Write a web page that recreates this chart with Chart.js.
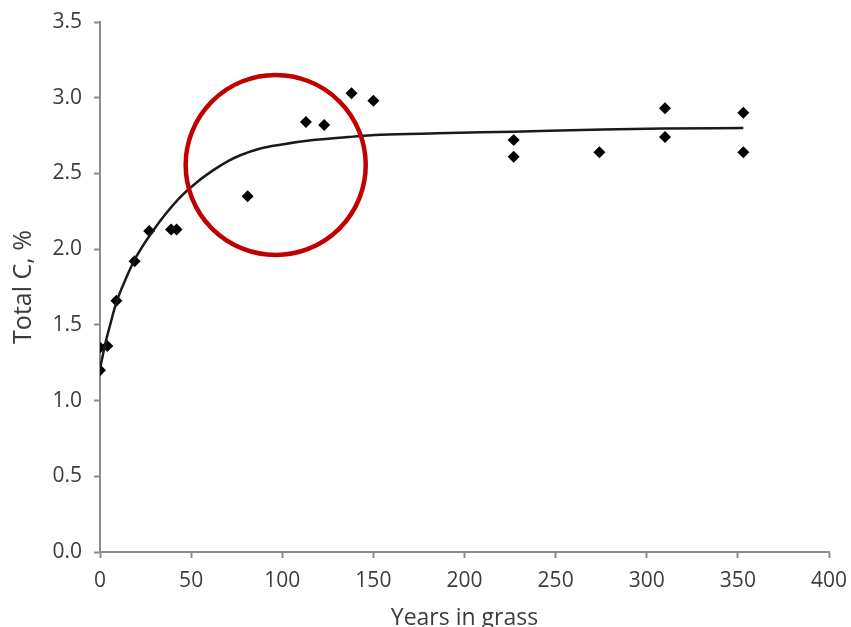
<!DOCTYPE html>
<html>
<head>
<meta charset="utf-8">
<script src="https://cdn.jsdelivr.net/npm/chart.js@4/dist/chart.umd.min.js"></script>
<style>
  html, body { margin: 0; padding: 0; background: #fff; }
  #wrap { width: 851px; height: 627px; }
</style>
</head>
<body>
<div id="wrap"><canvas id="chartCarbon" width="851" height="627"></canvas></div>
<script>
// Total C (%) vs years in grass — measured points + fitted curve

var obsYears  = [0, 0, 4, 9, 19, 27, 39, 42, 81, 113, 123, 138, 150, 227, 227, 274, 310, 310, 353, 353];
var obsCarbon = [1.20, 1.35, 1.36, 1.66, 1.92, 2.12, 2.13, 2.13, 2.35, 2.84, 2.82, 3.03, 2.98, 2.72, 2.61, 2.64, 2.93, 2.74, 2.90, 2.64];

var fitYears  = [0, 3, 6, 9, 14, 19, 29, 43, 53, 62, 70, 77, 88, 99, 117, 136, 154, 185, 227, 276, 309, 353];
var fitCarbon = [1.21, 1.38, 1.52, 1.65, 1.80, 1.93, 2.12, 2.33, 2.44, 2.52, 2.58, 2.62, 2.665, 2.69, 2.72, 2.74, 2.755, 2.765, 2.776, 2.79, 2.796, 2.80];

var xTicks = [0, 50, 100, 150, 200, 250, 300, 350, 400];
var yTicks = [0, 0.5, 1.0, 1.5, 2.0, 2.5, 3.0, 3.5];

// red highlight circle, in data units (centre year, centre %C, radius in years)
var ringYear = 96.4, ringCarbon = 2.556, ringRadiusYears = 49.4;

function toPoints(xs, ys) {
    return xs.map(function (x, i) { return { x: x, y: ys[i] }; });
}

var axisGray = '#8c8c8c';
var textGray = '#3c3c3c';

// ── red ring annotation ─────────────────────────────────────────────────
var ringPlugin = {
    id: 'ring',
    afterDatasetsDraw: function (chart) {
        var xs = chart.scales.x, ys = chart.scales.y, ctx = chart.ctx;
        var cx = xs.getPixelForValue(ringYear);
        var cy = ys.getPixelForValue(ringCarbon);
        var r  = xs.getPixelForValue(ringYear + ringRadiusYears) - cx;
        ctx.save();
        ctx.beginPath();
        ctx.arc(cx, cy, r, 0, Math.PI * 2);
        ctx.strokeStyle = '#c00000';
        ctx.lineWidth = 4.5;
        ctx.stroke();
        ctx.restore();
    }
};

new Chart(document.getElementById('chartCarbon'), {
    type: 'scatter',
    data: {
        datasets: [{
            label: 'Fit',
            data: toPoints(fitYears, fitCarbon),
            showLine: true,
            borderColor: '#1a1a1a',
            borderWidth: 2.5,
            pointRadius: 0,
            cubicInterpolationMode: 'monotone',
            fill: false
        }, {
            label: 'Observed',
            data: toPoints(obsYears, obsCarbon),
            pointStyle: 'rectRot',
            pointRadius: 6,
            backgroundColor: '#000',
            borderColor: '#000',
            borderWidth: 0
        }]
    },
    options: {
        responsive: false,
        animation: false,
        layout: { padding: { left: 0, right: 22, top: 22, bottom: 0 } },
        plugins: { legend: { display: false }, tooltip: { enabled: false } },
        scales: {
            x: {
                type: 'linear',
                min: 0, max: 400,
                afterBuildTicks: function (s) { s.ticks = xTicks.map(function (v) { return { value: v }; }); },
                afterFit: function (s) { s.height = 75; s.paddingLeft = 0; s.paddingRight = 0; },
                border: { display: true, color: axisGray, width: 2 },
                grid: { drawOnChartArea: false, drawTicks: true, tickLength: 6, tickColor: axisGray, tickWidth: 2 },
                ticks: { color: textGray, padding: 10, maxRotation: 0, font: { family: 'Open Sans', size: 21 } },
                title: {
                    display: true, text: 'Years in grass', color: textGray,
                    font: { family: 'Open Sans', size: 23 },
                    padding: { top: 0, bottom: -5 }
                }
            },
            y: {
                type: 'linear',
                min: 0, max: 3.5,
                afterBuildTicks: function (s) { s.ticks = yTicks.map(function (v) { return { value: v }; }); },
                afterFit: function (s) { s.width = 100; s.paddingTop = 0; s.paddingBottom = 0; },
                border: { display: true, color: axisGray, width: 2 },
                grid: { drawOnChartArea: false, drawTicks: true, tickLength: 6, tickColor: axisGray, tickWidth: 2 },
                ticks: {
                    color: textGray, padding: 12,
                    font: { family: 'Open Sans', size: 21 },
                    callback: function (v) { return Number(v).toFixed(1); }
                },
                title: {
                    display: true, text: 'Total C, %', color: textGray,
                    font: { family: 'Open Sans', size: 25 },
                    padding: { top: 9, bottom: 0 }
                }
            }
        }
    },
    plugins: [ringPlugin]
});
</script>
</body>
</html>
